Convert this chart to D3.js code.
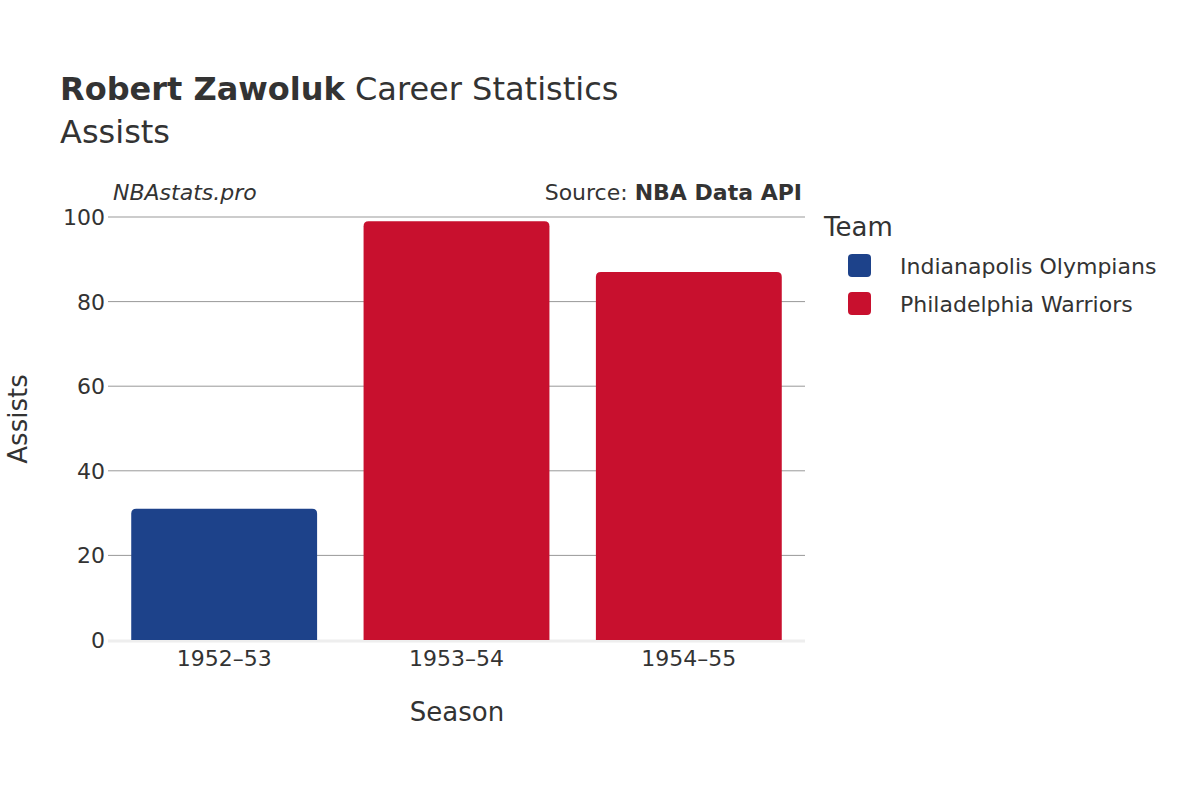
<!DOCTYPE html>
<html><head><meta charset="utf-8">
<script src="https://cdn.jsdelivr.net/npm/d3@7"></script>
<style>body{margin:0;background:#fff}text{font-family:"DejaVu Sans",sans-serif;fill:#333}</style>
</head><body><svg width="1200" height="800"></svg>
<script>
const seasons = ["1952–53", "1953–54", "1954–55"];
const assists = [31, 99, 87];
const teams = ["Indianapolis Olympians", "Philadelphia Warriors", "Philadelphia Warriors"];
const legendTeams = ["Indianapolis Olympians", "Philadelphia Warriors"];
const teamColors = ["#1d428a", "#c8102e"];
const yTicks = [0, 20, 40, 60, 80, 100];

const svg = d3.select("svg");
const plotLeft = 108, plotRight = 805, plotTop = 217, plotBottom = 640;
const x = d3.scaleBand().domain(seasons).range([plotLeft, plotRight]).paddingInner(0.2).paddingOuter(0.1);
const y = d3.scaleLinear().domain([0, 100]).range([plotBottom, plotTop]);
const color = d3.scaleOrdinal().domain(legendTeams).range(teamColors);

svg.append("g").selectAll("line").data(yTicks.slice(1)).enter().append("line")
    .attr("x1", plotLeft).attr("x2", plotRight)
    .attr("y1", d => y(d)).attr("y2", d => y(d))
    .attr("stroke", "#999").attr("stroke-width", 1);
svg.append("line").attr("x1", plotLeft).attr("x2", plotRight).attr("y1", plotBottom + 1).attr("y2", plotBottom + 1)
    .attr("stroke", "#eee").attr("stroke-width", 3);

svg.append("g").selectAll("path").data(seasons).enter().append("path")
    .attr("fill", (d, i) => color(teams[i]))
    .attr("d", (d, i) => {
        const x0 = x(d), w = x.bandwidth(), y0 = y(assists[i]), r = 5;
        return `M${x0},${plotBottom}V${y0 + r}Q${x0},${y0} ${x0 + r},${y0}H${x0 + w - r}Q${x0 + w},${y0} ${x0 + w},${y0 + r}V${plotBottom}Z`;
    });

svg.append("g").selectAll("text").data(yTicks).enter().append("text")
    .attr("x", plotLeft - 3).attr("y", d => y(d) + 8).attr("text-anchor", "end")
    .attr("font-size", 22).text(d => d);
svg.append("g").selectAll("text").data(seasons).enter().append("text")
    .attr("x", d => x(d) + x.bandwidth() / 2).attr("y", 666).attr("text-anchor", "middle")
    .attr("font-size", 22).text(d => d);

svg.append("text").attr("x", 457).attr("y", 721).attr("text-anchor", "middle").attr("font-size", 26).text("Season");
svg.append("text").attr("transform", "translate(27,419) rotate(-90)").attr("text-anchor", "middle").attr("font-size", 26).text("Assists");

const t = svg.append("text").attr("x", 60).attr("y", 100).attr("font-size", 32);
t.append("tspan").attr("font-weight", "bold").text("Robert Zawoluk");
t.append("tspan").text(" Career Statistics");
svg.append("text").attr("x", 60).attr("y", 143).attr("font-size", 32).text("Assists");

svg.append("text").attr("x", 113).attr("y", 200).attr("font-size", 22).attr("font-style", "italic").text("NBAstats.pro");
const s = svg.append("text").attr("x", 802).attr("y", 200).attr("font-size", 22).attr("text-anchor", "end");
s.append("tspan").text("Source: ");
s.append("tspan").attr("font-weight", "bold").text("NBA Data API");

svg.append("text").attr("x", 824).attr("y", 236).attr("font-size", 26).text("Team");
const lg = svg.append("g").selectAll("g").data(legendTeams).enter().append("g")
    .attr("transform", (d, i) => `translate(848,${254 + i * 38})`);
lg.append("rect").attr("width", 23).attr("height", 23).attr("rx", 4).attr("fill", d => color(d));
lg.append("text").attr("x", 52).attr("y", 20).attr("font-size", 22).text(d => d);
</script></body></html>
